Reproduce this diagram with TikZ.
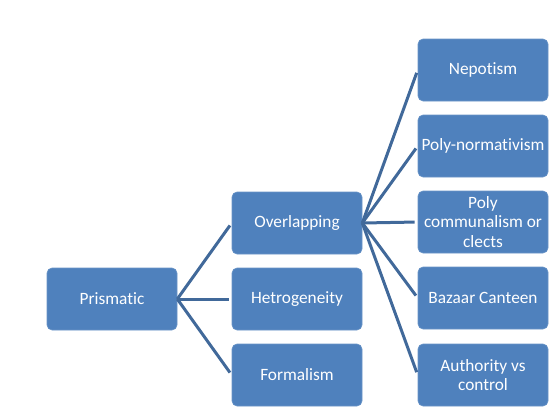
\documentclass[tikz,border=0pt]{standalone}
\usepackage{fontspec}
\setmainfont[Ligatures={NoCommon,NoContextual}]{Carlito}
\definecolor{boxblue}{HTML}{4F81BD}
\definecolor{lineblue}{HTML}{41699A}
\begin{document}
\begin{tikzpicture}[x=1pt,y=-1pt,
  box/.style={fill=boxblue,draw=boxblue!85!white,line width=0.6pt,rounded corners=5pt,
    minimum width=130pt,minimum height=62pt,inner sep=2pt,text=white,align=center,
    font=\fontsize{17.3}{19.5}\selectfont},
  conn/.style={draw=lineblue,line width=3pt,shorten >=3pt}]
\useasboundingbox (0,0) rectangle (559,413);
\node[box] (pri) at (112,299) {Prismatic};
\node[box] (ovl) at (297,223) {Overlapping};
\node[box] (het) at (297,299) {Hetrogeneity};
\node[box] (for) at (297,375) {Formalism};
\node[box] (nep) at (483,70) {Nepotism};
\node[box] (pno) at (483,146) {Poly-normativism};
\node[box] (pco) at (483,222) {Poly\\communalism or\\clects};
\node[box] (baz) at (483,298) {Bazaar Canteen};
\node[box] (aut) at (483,375) {Authority vs\\control};
\foreach \c in {ovl,het,for} \draw[conn] (pri.east) -- (\c.west);
\foreach \c in {nep,pno,pco,baz,aut} \draw[conn] (ovl.east) -- (\c.west);
\end{tikzpicture}
\end{document}
